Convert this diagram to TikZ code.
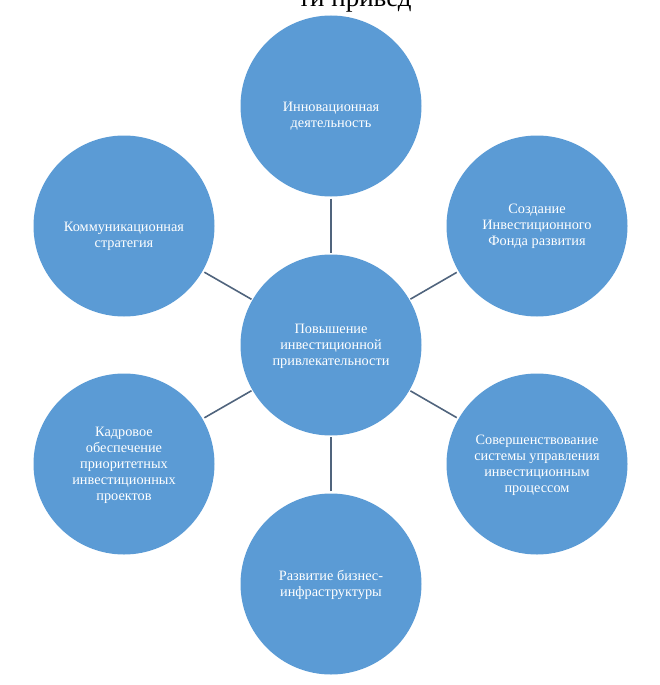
\documentclass[tikz,border=0pt]{standalone}
\usepackage{fontspec}
\setmainfont{Liberation Serif}
\definecolor{circfill}{RGB}{91,155,213}
\definecolor{linkcol}{RGB}{80,100,125}
\begin{document}
\begin{tikzpicture}[x=1pt,y=-1pt,
  bubble/.style={circle,fill=circfill,minimum size=181pt,inner sep=0pt},
  label/.style={text=white,align=center,font=\fontsize{14.3}{16}\selectfont},
  link/.style={draw=linkcol,line width=1.6pt,shorten <=2pt,shorten >=1pt}]
\useasboundingbox (0,0) rectangle (659,685);
\node[font=\fontsize{27}{30}\selectfont,anchor=base] (head) at (355,7) {ти привед};
\node[bubble] (c) at (331,345) {};
\node[bubble] (t) at (331,106) {};
\node[bubble] (tr) at (537,226) {};
\node[bubble] (br) at (537,464) {};
\node[bubble] (b) at (331,584) {};
\node[bubble] (bl) at (124,464) {};
\node[bubble] (tl) at (124,226) {};
\foreach \o in {t,tr,br,b,bl,tl} {\draw[link] (\o) -- (c);}
\node[label] (lc) at (331,346) {Повышение\\инвестиционной\\привлекательности};
\node[label] (lt) at (331,116) {Инновационная\\деятельность};
\node[label] (ltr) at (537,226) {Создание\\Инвестиционного\\Фонда развития};
\node[label] (lbr) at (537,465) {Совершенствование\\системы управления\\инвестиционным\\процессом};
\node[label] (lb) at (331,585) {Развитие бизнес-\\инфраструктуры};
\node[label] (lbl) at (124,465) {Кадровое\\обеспечение\\приоритетных\\инвестиционных\\проектов};
\node[label] (ltl) at (124,236) {Коммуникационная\\стратегия};
\end{tikzpicture}
\end{document}
